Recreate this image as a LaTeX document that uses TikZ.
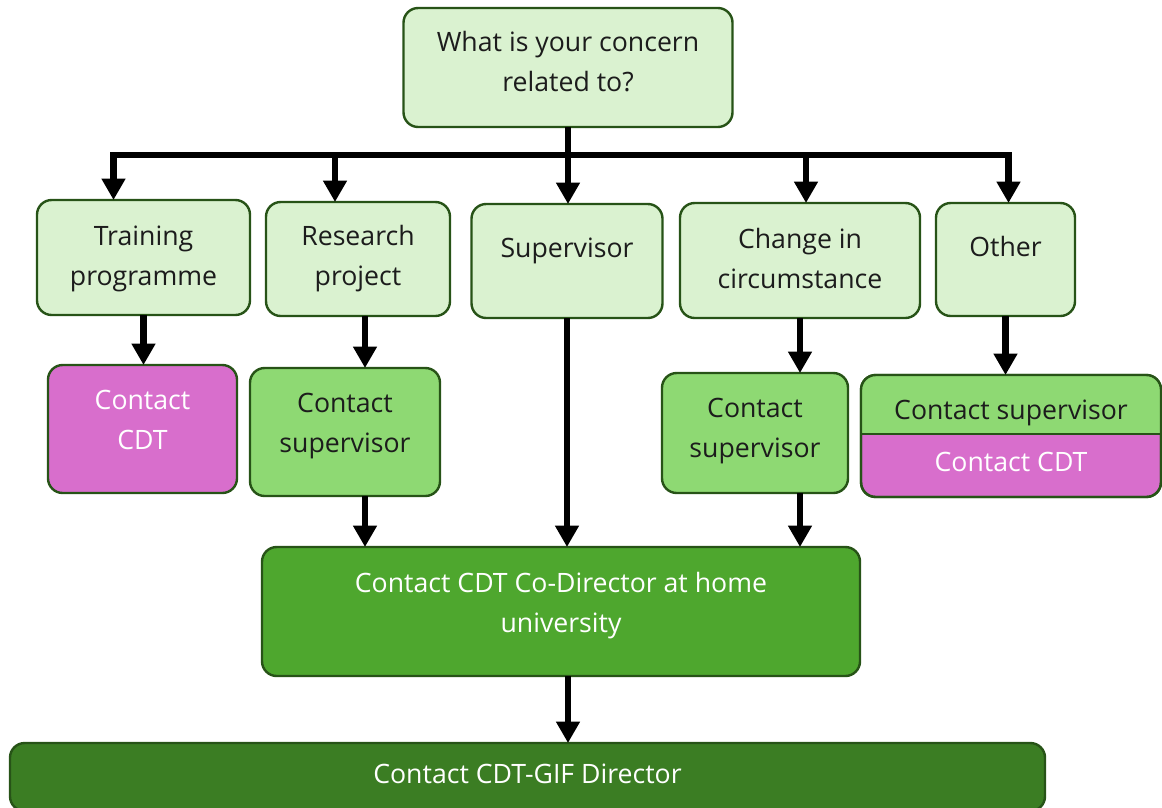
\documentclass[tikz,border=0pt]{standalone}
\usepackage{fontspec}
\setmainfont{Open Sans}
\usetikzlibrary{arrows.meta,calc,positioning}
\definecolor{paleg}{HTML}{DAF2D0}
\definecolor{midg}{HTML}{8ED973}
\definecolor{darkg}{HTML}{4EA72E}
\definecolor{deepg}{HTML}{3B7D23}
\definecolor{edgeg}{HTML}{275317}
\definecolor{cdtpink}{HTML}{D86ECC}
\definecolor{inkgrey}{HTML}{1C1C1C}
% text lifted inside its box, box size kept
\newcommand{\lift}[2]{\raisebox{#1}[\height][\depth]{\begin{tabular}{@{}c@{}}#2\end{tabular}}}
\tikzset{
  box/.style={draw=edgeg,line width=1.8pt,rounded corners=11pt,inner sep=0pt,outer sep=0pt,
    font=\fontsize{20}{30}\selectfont},
  askbox/.style={box,fill=paleg,text=inkgrey},
  supbox/.style={box,fill=midg,text=inkgrey},
  cdtbox/.style={box,fill=cdtpink,text=white},
  codirbox/.style={box,fill=darkg,text=white},
  gifbox/.style={box,fill=deepg,text=white},
  edge/.style={draw=edgeg,line width=1.8pt},
  lbl/.style={inner sep=0pt,font=\fontsize{20}{30}\selectfont},
  flow/.style={line width=4.8pt,-{Triangle[length=16pt,width=17pt]}},
}
\begin{document}
\begin{tikzpicture}[x=0.75pt,y=-0.75pt]
  \useasboundingbox (0,0) rectangle (1162,807);
  % draw question and topics
  \node[askbox,minimum width=246.75pt,minimum height=89.25pt] (q) at (568,67.5) {\lift{3pt}{What is your concern\\related to?}};
  \node[askbox,minimum width=159.75pt,minimum height=86.25pt] (train) at (143.5,257.5) {\lift{0pt}{Training\\programme}};
  \node[askbox,minimum width=138pt,minimum height=85.5pt] (res) at (358,259) {\lift{1pt}{Research\\project}};
  \node[askbox,minimum width=143.25pt,minimum height=85.5pt] (sup) at (567,261) {\lift{9pt}{Supervisor}};
  \node[askbox,minimum width=180pt,minimum height=86.25pt] (chg) at (800,260.5) {\lift{0pt}{Change in\\circumstance}};
  \node[askbox,minimum width=104.25pt,minimum height=84.75pt] (oth) at (1005.5,259.5) {\lift{8pt}{Other}};
  % draw who to contact
  \node[cdtbox,minimum width=141.75pt,minimum height=96pt] (cdt1) at (142.5,429) {\lift{6pt}{Contact\\CDT}};
  \node[supbox,minimum width=142.5pt,minimum height=96pt] (sup1) at (345,432) {\lift{6pt}{Contact\\supervisor}};
  \node[supbox,minimum width=139.5pt,minimum height=90pt] (sup2) at (755,433) {\lift{3pt}{Contact\\supervisor}};
  \node[codirbox,minimum width=448.5pt,minimum height=96.75pt] (codir) at (561,611.5) {\lift{5.5pt}{Contact CDT Co-Director at home\\university}};
  \node[gifbox,minimum width=776.25pt,minimum height=51pt] (gif) at (527.5,777) {\lift{1.5pt}{Contact CDT-GIF Director}};
  % draw split box under other
  \node[cdtbox,minimum width=225pt,minimum height=91.5pt] (oth2) at (1011,436) {};
  \coordinate (cut) at (0,434);
  \begin{scope}
    \clip[rounded corners=11pt] (oth2.north west) rectangle (oth2.south east);
    \fill[midg] (oth2.north west) rectangle (oth2.east |- cut);
  \end{scope}
  \draw[edge] (oth2.west |- cut) -- (oth2.east |- cut);
  \draw[edge,rounded corners=11pt] (oth2.north west) rectangle (oth2.south east);
  \node[lbl,text=inkgrey] (othsup) at (1011,411) {\lift{0pt}{Contact supervisor}};
  \node[lbl,text=white] (othcdt) at (1011,463) {\lift{0pt}{Contact CDT}};
  % draw branching arrows
  \coordinate (bar) at (0,155);
  \draw[flow] (q.south) -- (q.south |- sup.north);
  \draw[flow] (q.south |- bar) -| ($(train.north)+(-30,0)$);
  \draw[flow] (q.south |- bar) -| ($(res.north)+(-23,0)$);
  \draw[flow] (q.south |- bar) -| ($(chg.north)+(6,0)$);
  \draw[flow] (q.south |- bar) -| ($(oth.north)+(3,0)$);
  % draw arrows down
  \coordinate (resout) at ($(res.south)+(7,0)$);
  \coordinate (sup1out) at ($(sup1.south)+(20,0)$);
  \coordinate (sup2out) at ($(sup2.south)+(45,0)$);
  \coordinate (codirout) at ($(codir.south)+(7,0)$);
  \draw[flow] (train.south) -- (train.south |- cdt1.north);
  \draw[flow] (resout) -- (resout |- sup1.north);
  \draw[flow] (oth.south) -- (oth.south |- oth2.north);
  \draw[flow] (chg.south) -- (chg.south |- sup2.north);
  \draw[flow] (sup1out) -- (sup1out |- codir.north);
  \draw[flow] (sup.south) -- (sup.south |- codir.north);
  \draw[flow] (sup2out) -- (sup2out |- codir.north);
  \draw[flow] (codirout) -- (codirout |- gif.north);
\end{tikzpicture}
\end{document}
